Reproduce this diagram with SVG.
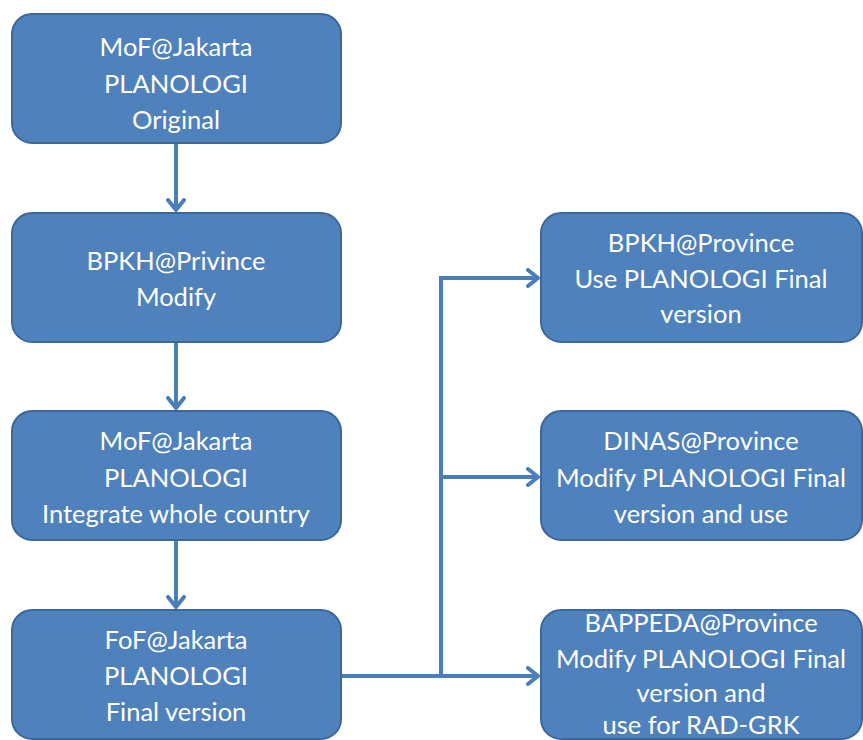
<svg xmlns="http://www.w3.org/2000/svg" width="863" height="740" viewBox="0 0 863 740">
<defs>
<style>
.box{fill:#4f81bd;stroke:#3c679a;stroke-width:2}
.t{font-family:Lato,"Liberation Sans",sans-serif;font-size:25.5px;fill:#ffffff;text-anchor:middle}
.c{fill:none;stroke:#4a7ebb;stroke-width:4}
</style>
<marker id="ah" viewBox="0 0 14 20" refX="12" refY="10" markerWidth="14" markerHeight="20" markerUnits="userSpaceOnUse" orient="auto">
<path d="M2,2 L12,10 L2,18" fill="none" stroke="#4a7ebb" stroke-width="4" stroke-linecap="round" stroke-linejoin="round"/>
</marker>
</defs>
<rect width="863" height="740" fill="#ffffff"/>
<g id="connectors">
<line class="c" x1="176" y1="143" x2="176" y2="210" marker-end="url(#ah)"/>
<line class="c" x1="176" y1="342" x2="176" y2="408" marker-end="url(#ah)"/>
<line class="c" x1="176" y1="540" x2="176" y2="607" marker-end="url(#ah)"/>
<line class="c" x1="341" y1="676" x2="538" y2="676" marker-end="url(#ah)"/>
<polyline class="c" points="441,676 441,278 538,278" marker-end="url(#ah)"/>
<line class="c" x1="441" y1="477" x2="538" y2="477" marker-end="url(#ah)"/>
</g>
<g id="n1"><rect class="box" x="12" y="14" width="329" height="129" rx="20"/>
<text class="t" x="176" y="56">MoF@Jakarta</text><text class="t" x="176" y="93">PLANOLOGI</text><text class="t" x="176" y="129">Original</text></g>
<g id="n2"><rect class="box" x="12" y="213" width="329" height="129" rx="20"/>
<text class="t" x="176" y="270">BPKH@Privince</text><text class="t" x="176" y="306">Modify</text></g>
<g id="n3"><rect class="box" x="12" y="411" width="329" height="129" rx="20"/>
<text class="t" x="176" y="450">MoF@Jakarta</text><text class="t" x="176" y="487">PLANOLOGI</text><text class="t" x="176" y="523">Integrate whole country</text></g>
<g id="n4"><rect class="box" x="12" y="610" width="329" height="129" rx="20"/>
<text class="t" x="176" y="649">FoF@Jakarta</text><text class="t" x="176" y="685">PLANOLOGI</text><text class="t" x="176" y="721">Final version</text></g>
<g id="r1"><rect class="box" x="541" y="213" width="321" height="129" rx="20"/>
<text class="t" x="701" y="252">BPKH@Province</text><text class="t" x="701" y="288">Use PLANOLOGI Final</text><text class="t" x="701" y="323">version</text></g>
<g id="r2"><rect class="box" x="541" y="411" width="321" height="129" rx="20"/>
<text class="t" x="701" y="450">DINAS@Province</text><text class="t" x="701" y="487">Modify PLANOLOGI Final</text><text class="t" x="701" y="523">version and use</text></g>
<g id="r3"><rect class="box" x="541" y="610" width="321" height="129" rx="20"/>
<text class="t" x="701" y="632">BAPPEDA@Province</text><text class="t" x="701" y="668">Modify PLANOLOGI Final</text><text class="t" x="701" y="702">version and</text><text class="t" x="701" y="734">use for RAD-GRK</text></g>
</svg>
